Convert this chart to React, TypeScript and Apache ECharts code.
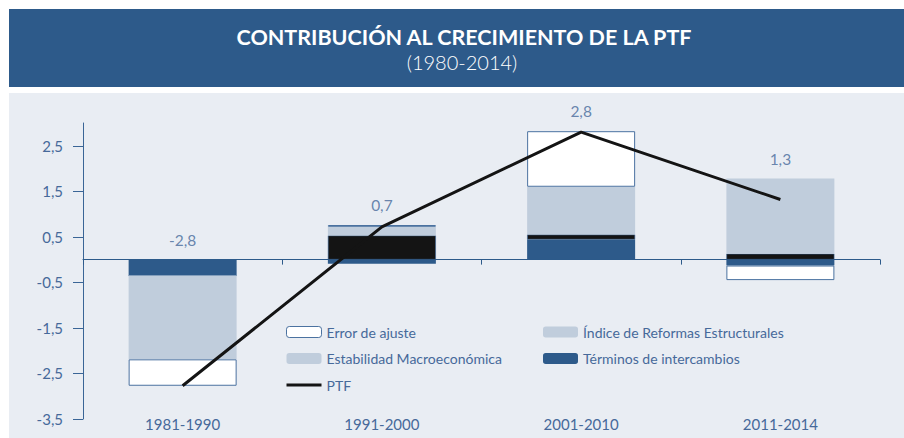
import React, { useEffect, useRef } from "react";
import * as echarts from "echarts";

const categories = ["1981-1990", "1991-2000", "2001-2010", "2011-2014"];
const terminosIntercambio = [-0.35, -0.09, 0.44, -0.13];
const estabilidadMacro = [0, 0.53, 0.11, 0.13];
const indiceReformas = [-1.84, 0.19, 1.05, 1.65];
const errorAjuste = [-0.58, 0.04, 1.22, -0.32];
const ptf = [-2.77, 0.72, 2.8, 1.32];
const yTicks = [-3.5, -2.5, -1.5, -0.5, 0.5, 1.5, 2.5];

const TITLE = "CONTRIBUCIÓN AL CRECIMIENTO DE LA PTF";
const SUBTITLE = "(1980-2014)";

const DARK = "#2d5a8a";
const GREY = "#c0cddc";
const BLACK = "#141414";
const TEXT = "#46699a";
const FONT = "Lato, 'Open Sans', sans-serif";

const fmt = (v: number) => v.toFixed(1).replace(".", ",");

export default function App() {
  const ref = useRef<HTMLDivElement>(null);
  useEffect(() => {
    if (!ref.current) return;
    const chart = echarts.init(ref.current, undefined, { renderer: "svg" });
    const posTop = categories.map((_, i) =>
      [terminosIntercambio, estabilidadMacro, indiceReformas, errorAjuste].reduce(
        (s, arr) => s + Math.max(0, arr[i]),
        0
      )
    );
    const barWidth = 108;
    const legendText = { color: TEXT, fontSize: 14, fontFamily: FONT };
    chart.setOption({
      animation: false,
      textStyle: { fontFamily: FONT },
      graphic: [
        { type: "rect", z: 0, shape: { x: 9, y: 9, width: 895, height: 78 }, style: { fill: DARK } },
        { type: "rect", z: 0, shape: { x: 9, y: 93, width: 895, height: 345 }, style: { fill: "#e9edf3" } },
        {
          type: "text",
          z: 10,
          x: 464,
          y: 37,
          style: {
            text: TITLE,
            fill: "#ffffff",
            font: `bold 21.5px ${FONT}`,
            textAlign: "center",
            textVerticalAlign: "middle",
          },
        },
        {
          type: "text",
          z: 10,
          x: 462,
          y: 62,
          style: {
            text: SUBTITLE,
            fill: "#ffffff",
            font: `300 20px ${FONT}`,
            textAlign: "center",
            textVerticalAlign: "middle",
          },
        },
      ],
      grid: { left: 83, right: 24, top: 123, bottom: 19, containLabel: false },
      legend: [
        {
          orient: "vertical",
          left: 286,
          top: 325,
          padding: 0,
          itemWidth: 35,
          itemHeight: 11,
          itemGap: 12.5,
          textStyle: legendText,
          data: [
            { name: "Error de ajuste", itemStyle: { color: "#ffffff", borderColor: "#4b72a0", borderWidth: 1 } },
            { name: "Estabilidad Macroeconómica", itemStyle: { color: GREY, borderWidth: 0 } },
            { name: "PTF", icon: "path://M0,0H35V3H0Z", itemStyle: { color: BLACK } },
          ],
          selectedMode: false,
        },
        {
          orient: "vertical",
          left: 543,
          top: 325,
          padding: 0,
          itemWidth: 35,
          itemHeight: 11,
          itemGap: 12.5,
          textStyle: legendText,
          data: [{ name: "Índice de Reformas Estructurales" }, { name: "Términos de intercambios" }],
          selectedMode: false,
        },
      ],
      xAxis: [
        {
          type: "category",
          data: categories,
          position: "bottom",
          axisLine: { onZero: true, lineStyle: { color: DARK, width: 1 } },
          axisTick: { show: true, length: 5, lineStyle: { color: DARK } },
          axisLabel: { show: false },
          splitLine: { show: false },
        },
        {
          type: "category",
          data: categories,
          position: "bottom",
          axisLine: { show: false, onZero: false },
          axisTick: { show: false },
          axisLabel: { show: true, color: TEXT, fontSize: 15, fontFamily: FONT, margin: -3 },
          splitLine: { show: false },
        },
      ],
      yAxis: {
        type: "value",
        min: -3.5,
        max: 3,
        axisLine: { show: true, lineStyle: { color: "#3a6596", width: 1 } },
        axisTick: { show: true, length: 10, customValues: yTicks, lineStyle: { color: "#3a6596" } },
        axisLabel: {
          customValues: yTicks,
          formatter: (v: number) => fmt(v),
          color: TEXT,
          fontSize: 15,
          fontFamily: FONT,
          margin: 20,
        },
        splitLine: { show: false },
      },
      series: [
        {
          name: "Términos de intercambios",
          type: "bar",
          stack: "total",
          barWidth,
          data: terminosIntercambio,
          itemStyle: { color: DARK },
        },
        {
          name: "Estabilidad Macroeconómica",
          type: "bar",
          stack: "total",
          barWidth,
          data: estabilidadMacro,
          itemStyle: { color: BLACK, borderColor: "#3a6596", borderWidth: 0.6 },
        },
        {
          name: "Índice de Reformas Estructurales",
          type: "bar",
          stack: "total",
          barWidth,
          data: indiceReformas,
          itemStyle: { color: GREY },
        },
        {
          name: "Error de ajuste",
          type: "bar",
          stack: "total",
          barWidth,
          data: errorAjuste,
          itemStyle: { color: "#ffffff", borderColor: "#4b72a0", borderWidth: 1 },
        },
        {
          name: "PTF",
          type: "line",
          data: ptf,
          symbol: "none",
          lineStyle: { color: BLACK, width: 3 },
          itemStyle: { color: BLACK },
          z: 5,
        },
        {
          name: "labels",
          type: "scatter",
          data: posTop.map((t, i) => [i, t]),
          symbolSize: 0,
          silent: true,
          label: {
            show: true,
            position: "top",
            distance: 12,
            formatter: (p: any) => fmt(ptf[p.dataIndex]),
            color: TEXT,
            fontSize: 15.5,
            fontFamily: FONT,
          },
        },
      ],
    });
    return () => chart.dispose();
  }, []);
  return (
    <div style={{ position: "absolute", left: 0, top: 0, width: 904, height: 438, background: "#ffffff" }}>
      <div ref={ref} style={{ width: 904, height: 438 }} />
    </div>
  );
}
